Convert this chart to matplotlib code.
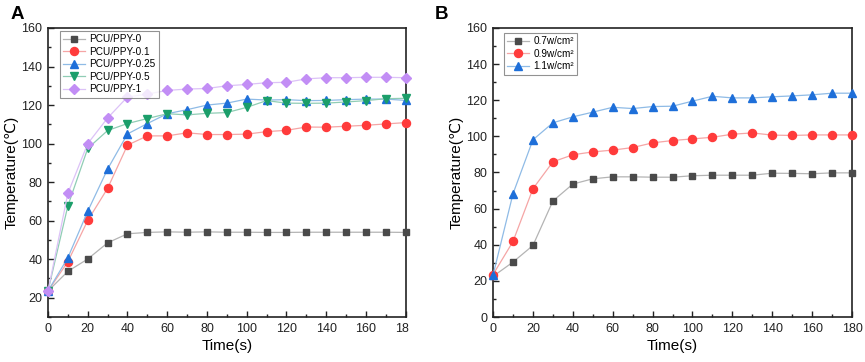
import numpy as np
import matplotlib
matplotlib.use('Agg')
import matplotlib.pyplot as plt
from matplotlib.ticker import MultipleLocator
from matplotlib.patches import Rectangle

plt.rcParams['font.family'] = ['Liberation Sans', 'DejaVu Sans']

# time axis, shared by both panels
time = np.arange(0, 181, 10)

# panel A : PCU/PPY samples
labels_a = ['PCU/PPY-0', 'PCU/PPY-0.1', 'PCU/PPY-0.25', 'PCU/PPY-0.5', 'PCU/PPY-1']
ppy_0 = [23.5, 33.7, 40.1, 48.5, 53.2, 53.9, 54.2, 54.0, 54.2, 54.0, 54.0, 53.9, 53.9,
         54.0, 54.0, 54.0, 54.0, 54.0, 53.9]
ppy_01 = [23.5, 38.7, 60.1, 76.8, 99.2, 104.0, 104.0, 105.6, 104.7, 104.7, 104.9, 106.2,
          106.9, 108.6, 108.5, 109.0, 109.5, 110.2, 110.9]
ppy_025 = [23.5, 40.8, 64.9, 86.8, 105.0, 110.4, 115.5, 117.6, 120.0, 121.0, 123.1, 122.6,
           122.8, 122.3, 122.4, 122.8, 123.1, 123.1, 122.4]
ppy_05 = [23.5, 67.7, 97.5, 106.8, 110.4, 113.0, 115.5, 114.9, 115.7, 116.1, 118.8, 122.3,
          121.0, 120.9, 121.0, 121.6, 122.3, 123.3, 123.5]
ppy_1 = [23.5, 74.2, 100.0, 113.3, 124.2, 125.7, 127.6, 128.3, 128.6, 130.0, 130.7, 131.6,
         131.8, 133.6, 134.2, 134.2, 134.4, 134.4, 134.2]

# panel B : power densities
labels_b = ['0.7w/cm²', '0.9w/cm²', '1.1w/cm²']
p07 = [22.5, 30.4, 39.6, 64.2, 73.6, 76.5, 77.6, 77.6, 77.4, 77.4, 78.2, 78.5, 78.5,
       78.5, 79.6, 79.5, 79.3, 79.8, 79.8]
p09 = [23.5, 41.8, 71.0, 85.9, 89.8, 91.4, 92.4, 93.8, 96.4, 97.7, 98.6, 99.5, 101.2,
       101.9, 100.7, 100.5, 100.8, 100.8, 100.8]
p11 = [23.2, 68.2, 98.1, 107.5, 110.8, 113.4, 116.1, 115.4, 116.5, 116.7, 119.5, 122.2,
       121.3, 121.3, 121.9, 122.4, 123.0, 123.9, 123.9]

# marker colour, line colour, marker, marker size
style_a = [('#4a4a4a', '#b4b4b4', 's', 5.0),
           ('#ff3b3b', '#f5a5a5', 'o', 5.8),
           ('#1e6fd9', '#8fbbe6', '^', 5.8),
           ('#1b9e6a', '#90cdb5', 'v', 5.8),
           ('#c28ef5', '#dcc2f7', 'D', 5.0)]
style_b = style_a[:3]

fig = plt.figure(figsize=(8.65, 3.62), dpi=100)
axA = fig.add_axes([0.0555, 0.1243, 0.4135, 0.7984])
axB = fig.add_axes([0.5700, 0.1243, 0.4150, 0.7984])


def draw(ax, series, labels, styles, ylo, anchor):
    for y, lab, (mc, lc, m, ms) in zip(series, labels, styles):
        ax.plot(time, y, color=lc, lw=0.9, marker=m, ms=ms, mfc=mc, mec=mc,
                label=lab, clip_on=False, zorder=3)
    ax.set_xlim(0, 180)
    ax.set_ylim(ylo, 160)
    ax.xaxis.set_major_locator(MultipleLocator(20))
    ax.xaxis.set_minor_locator(MultipleLocator(10))
    ax.yaxis.set_major_locator(MultipleLocator(20))
    ax.yaxis.set_minor_locator(MultipleLocator(10))
    ax.tick_params(which='both', direction='in', labelsize=9, width=1.0, colors='#222222')
    ax.tick_params(which='major', length=4, pad=4)
    ax.tick_params(which='minor', length=2.2)
    for s in ax.spines.values():
        s.set_linewidth(1.2)
        s.set_color('#222222')
    ax.set_xlabel('Time(s)', fontsize=11, labelpad=3)
    ax.set_ylabel('Temperature(℃)', fontsize=11, labelpad=2)
    leg = ax.legend(loc='upper left', bbox_to_anchor=anchor, fontsize=7.2, frameon=True,
                    fancybox=False, edgecolor='#777777', borderpad=0.35, labelspacing=0.25,
                    handlelength=2.2, handletextpad=0.4, borderaxespad=0)
    leg.get_frame().set_linewidth(0.8)


draw(axA, [ppy_0, ppy_01, ppy_025, ppy_05, ppy_1], labels_a, style_a, 10, (0.033, 0.99))
draw(axB, [p07, p09, p11], labels_b, style_b, 0, (0.03, 0.983))
axA.set_yticks([20, 40, 60, 80, 100, 120, 140, 160])

fig.text(0.0116, 0.947, 'A', fontsize=13.5, fontweight='bold', va='baseline')
fig.text(0.503, 0.947, 'B', fontsize=13.5, fontweight='bold', va='baseline')

# the left panel is cut off on the right in the source figure
fig.add_artist(Rectangle((409 / 865, 17 / 362), 24 / 865, 26 / 362,
                         transform=fig.transFigure, color='white', zorder=10))

fig.savefig('out.png', dpi=100)
